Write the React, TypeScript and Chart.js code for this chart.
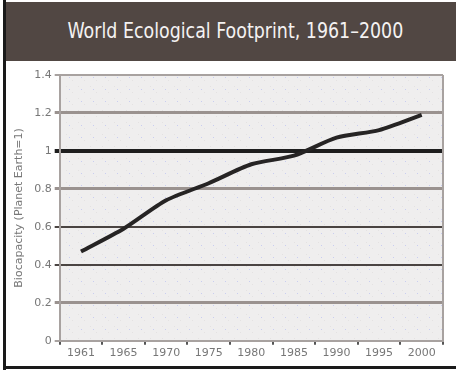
import React, { useEffect, useRef } from "react";
import { Chart, registerables } from "chart.js";

Chart.register(...registerables);

const years = ["1961", "1965", "1970", "1975", "1980", "1985", "1990", "1995", "2000"];
const footprint = [0.47, 0.59, 0.74, 0.83, 0.93, 0.975, 1.07, 1.11, 1.19];
const yTicks = [0, 0.2, 0.4, 0.6, 0.8, 1, 1.2, 1.4];

const FONT = '"DejaVu Sans", sans-serif';

// Grid line style per y value
function gridStyle(v: number): { color: string; width: number } {
  const r = Math.round(v * 10) / 10;
  if (r === 1) return { color: "#1e1e1e", width: 4 };
  if (r === 0.6 || r === 0.4) return { color: "#4a4442", width: 2 };
  if (r === 1.4 || r === 0) return { color: "#a8a2a0", width: 2 };
  return { color: "#9a928f", width: 3 };
}

const plotBackground = {
  id: "plotBackground",
  beforeDraw(chart: any) {
    const { ctx, chartArea } = chart;
    if (!chartArea) return;
    const tile = document.createElement("canvas");
    tile.width = 12;
    tile.height = 12;
    const t = tile.getContext("2d")!;
    t.fillStyle = "#efeeee";
    t.fillRect(0, 0, 12, 12);
    t.fillStyle = "#e4e2e2";
    t.fillRect(0, 0, 1, 1);
    t.fillRect(6, 6, 1, 1);
    t.fillStyle = "#c9cdf0";
    t.fillRect(3, 3, 1, 1);
    const pattern = ctx.createPattern(tile, "repeat");
    ctx.save();
    ctx.fillStyle = pattern || "#efeeee";
    ctx.fillRect(chartArea.left, chartArea.top, chartArea.right - chartArea.left, chartArea.bottom - chartArea.top);
    ctx.restore();
  },
  afterDraw(chart: any) {
    const { ctx, chartArea } = chart;
    ctx.save();
    ctx.strokeStyle = "#a8a2a0";
    ctx.lineWidth = 2;
    ctx.beginPath();
    ctx.moveTo(chartArea.right, chartArea.top);
    ctx.lineTo(chartArea.right, chartArea.bottom);
    ctx.stroke();
    ctx.restore();
  },
};

export default function App() {
  const canvasRef = useRef<HTMLCanvasElement | null>(null);

  useEffect(() => {
    document.body.style.margin = "0";
    const chart = new Chart(canvasRef.current!, {
      type: "line",
      data: {
        labels: years,
        datasets: [
          {
            data: footprint,
            borderColor: "#262424",
            borderWidth: 4,
            pointRadius: 0,
            tension: 0.25,
            fill: false,
          },
        ],
      },
      options: {
        animation: false,
        responsive: false,
        layout: { padding: { top: 13, right: 11, bottom: 4, left: 2 } },
        plugins: { legend: { display: false }, tooltip: { enabled: false } },
        scales: {
          x: {
            type: "category",
            offset: true,
            grid: {
              offset: true,
              drawOnChartArea: false,
              drawTicks: true,
              tickLength: 4,
              color: "#555",
              lineWidth: 2,
            },
            border: { display: true, color: "#a8a2a0", width: 2 },
            ticks: {
              color: "#777",
              font: { family: FONT, size: 11 },
              padding: 2,
              maxRotation: 0,
              autoSkip: false,
            },
          },
          y: {
            min: 0,
            max: 1.4,
            afterBuildTicks: (axis: any) => {
              axis.ticks = yTicks.map((v) => ({ value: v }));
            },
            grid: {
              color: (c: any) => gridStyle(c.tick ? c.tick.value : 0).color,
              lineWidth: (c: any) => gridStyle(c.tick ? c.tick.value : 0).width,
              tickLength: 5,
              drawTicks: true,
            },
            border: { display: true, color: "#a8a2a0", width: 2 },
            ticks: {
              color: "#777",
              font: { family: FONT, size: 11 },
              padding: 3,
              callback: (v: any) => String(Math.round(Number(v) * 10) / 10),
            },
            title: {
              display: true,
              text: "Biocapacity (Planet Earth=1)",
              color: "#777",
              font: { family: FONT, size: 11 },
              padding: 5,
            },
          },
        },
      },
      plugins: [plotBackground],
    });
    return () => chart.destroy();
  }, []);

  return (
    <div style={{ position: "absolute", left: 0, top: 0, width: 456, height: 370, background: "#ffffff" }}>
      <div
        style={{
          position: "absolute",
          left: 5,
          top: 2,
          width: 451,
          height: 59,
          background: "#514743",
          color: "#f4f2f2",
          fontFamily: FONT,
          fontSize: 21,
          lineHeight: "59px",
          textAlign: "center",
          boxSizing: "border-box",
          paddingLeft: 9,
          overflow: "hidden",
        }}
      >
        <span style={{ display: "inline-block", transform: "scaleX(0.83)", whiteSpace: "nowrap" }}>
          World Ecological Footprint, 1961–2000
        </span>
      </div>
      <div
        style={{
          position: "absolute",
          left: 3,
          top: 0,
          width: 3,
          height: 370,
          background: "#1a1a1a",
        }}
      />
      <div
        style={{
          position: "absolute",
          left: 3,
          top: 366,
          width: 453,
          height: 3,
          background: "#1a1a1a",
        }}
      />
      <canvas
        ref={canvasRef}
        width={448}
        height={304}
        style={{ position: "absolute", left: 6, top: 62, width: 448, height: 304 }}
      />
    </div>
  );
}
